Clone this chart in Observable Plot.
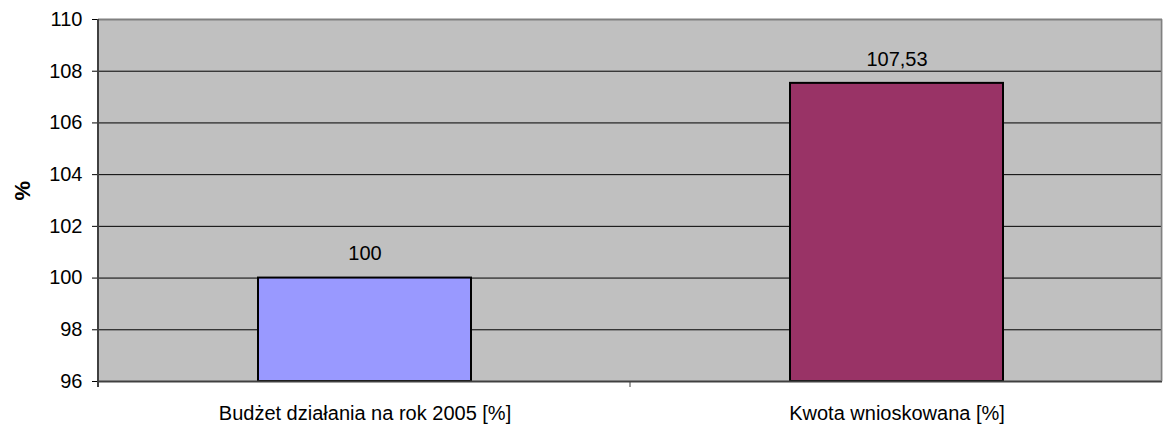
<!DOCTYPE html>
<html><head><meta charset="utf-8">
<script src="https://cdn.jsdelivr.net/npm/d3@7"></script>
<script src="https://cdn.jsdelivr.net/npm/@observablehq/plot@0.6"></script>
<style>
body{margin:0;background:#fff;}
svg{font-family:"Liberation Sans",Arial,sans-serif;}
</style></head>
<body><div id="chart"></div>
<script>
const categories = ["Budżet działania na rok 2005 [%]", "Kwota wnioskowana [%]"];
const values = [100, 107.53];
const labels = ["100", "107,53"];
const colors = ["#9999FF", "#993366"];
const yTicks = [96, 98, 100, 102, 104, 106, 108, 110];

const data = categories.map((c, i) => ({cat: c, value: values[i], label: labels[i], color: colors[i]}));

const W = 1163, H = 428;
const chart = Plot.plot({
  width: W, height: H,
  marginLeft: 98, marginRight: 1, marginTop: 19, marginBottom: 47,
  style: {fontFamily: '"Liberation Sans", Arial, sans-serif', fontSize: "20px", color: "#000", background: "#fff"},
  x: {type: "band", domain: categories, paddingInner: 0.6, paddingOuter: 0.3, label: null},
  y: {domain: [96, 110], label: null},
  marks: [
    Plot.frame({fill: "#C0C0C0", stroke: null}),
    Plot.ruleY(yTicks.filter(t => t > 96 && t < 110), {stroke: "#000", strokeWidth: 1}),
    Plot.ruleY([110], {stroke: "#808080", strokeWidth: 2}),
    Plot.barY(data, {x: "cat", y1: 96, y2: "value", fill: d => d.color, stroke: "#000", strokeWidth: 2}),
    Plot.text(data, {x: "cat", y: "value", text: "label", dy: -24, fontSize: 20, fill: "#000"}),
    Plot.ruleY([96], {stroke: "#404040", strokeWidth: 2}),
    Plot.axisY({ticks: yTicks, tickSize: 6, tickPadding: 10, fontSize: 20, label: null, stroke: "#000"}),
    Plot.axisX({tickSize: 0, tickPadding: 24, fontSize: 20, label: null}),
    Plot.text(["%"], {frameAnchor: "left", dx: -76, rotate: -90, fontWeight: "bold", fontSize: 22, fill: "#000"}),
    // frame edges and category boundary ticks
    (index, scales, values, dims) => {
      const g = d3.create("svg:g");
      const x0 = dims.marginLeft, x1 = dims.width - dims.marginRight;
      const y0 = dims.marginTop, y1 = dims.height - dims.marginBottom;
      g.append("line").attr("x1", x1 - 0.5).attr("x2", x1 - 0.5).attr("y1", y0).attr("y2", y1).attr("stroke", "#808080").attr("stroke-width", 1.5);
      g.append("line").attr("x1", x0).attr("x2", x0).attr("y1", y0).attr("y2", y1 + 6).attr("stroke", "#404040").attr("stroke-width", 2);
      for (let i = 1; i < categories.length; i++) {
        const xb = x0 + (x1 - x0) * i / categories.length;
        g.append("line").attr("x1", xb).attr("x2", xb).attr("y1", y1).attr("y2", y1 + 6).attr("stroke", "#404040").attr("stroke-width", 1);
      }
      return g.node();
    }
  ]
});
document.getElementById("chart").appendChild(chart);
</script>
</body></html>
